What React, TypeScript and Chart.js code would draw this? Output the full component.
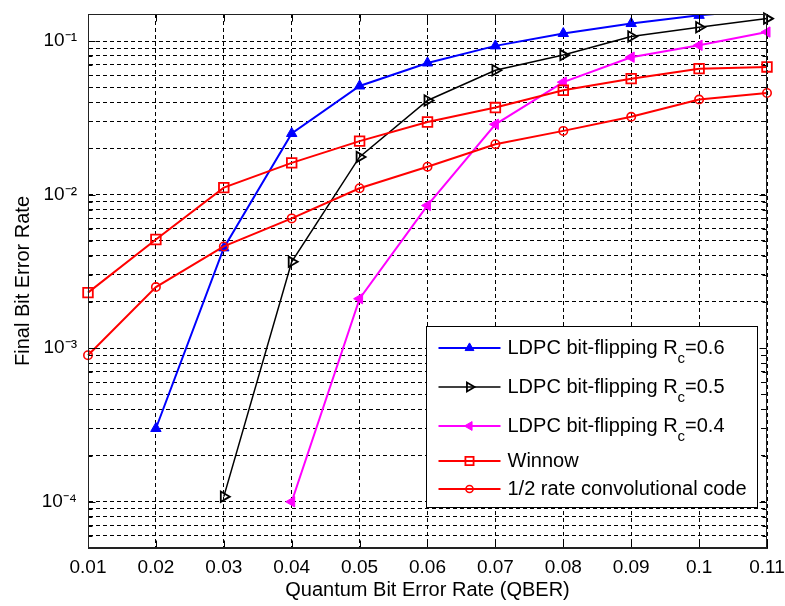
import React, { useEffect, useRef } from 'react';
import { Chart, registerables } from 'chart.js';

Chart.register(...registerables);

// ---------- data ----------
const qber = [0.01, 0.02, 0.03, 0.04, 0.05, 0.06, 0.07, 0.08, 0.09, 0.1, 0.11];
const xTickLabels = ['0.01', '0.02', '0.03', '0.04', '0.05', '0.06', '0.07', '0.08', '0.09', '0.1', '0.11'];

const ldpc06 = [null, 3.0e-4, 4.5e-3, 0.025, 0.051, 0.072, 0.093, 0.112, 0.13, 0.147, 0.16];
const ldpc05 = [null, null, 1.08e-4, 3.65e-3, 0.0176, 0.041, 0.0645, 0.081, 0.107, 0.123, 0.14];
const ldpc04 = [null, null, null, 1.0e-4, 2.1e-3, 8.5e-3, 0.0287, 0.054, 0.0785, 0.0938, 0.1144];
const winnow = [2.3e-3, 5.1e-3, 0.0111, 0.0161, 0.0223, 0.0297, 0.0369, 0.0478, 0.0569, 0.0661, 0.0678];
const convCode = [9.0e-4, 2.5e-3, 4.6e-3, 7.0e-3, 0.011, 0.0152, 0.0213, 0.026, 0.0321, 0.0416, 0.0459];

const seriesNames = [
  'LDPC bit-flipping R_{c}=0.6',
  'LDPC bit-flipping R_{c}=0.5',
  'LDPC bit-flipping R_{c}=0.4',
  'Winnow',
  '1/2 rate convolutional code',
];

const yGridTicks = [
  6e-5, 7e-5, 8e-5, 9e-5,
  1e-4, 2e-4, 3e-4, 4e-4, 5e-4, 6e-4, 7e-4, 8e-4, 9e-4,
  1e-3, 2e-3, 3e-3, 4e-3, 5e-3, 6e-3, 7e-3, 8e-3, 9e-3,
  1e-2, 2e-2, 3e-2, 4e-2, 5e-2, 6e-2, 7e-2, 8e-2, 9e-2,
  1e-1,
];
const yLabelValues = [1e-4, 1e-3, 1e-2, 1e-1];
const yLabelTexts = ['10\u207B\u2074', '10\u207B\u00B3', '10\u207B\u00B2', '10\u207B\u00B9'];

const FONT = "'Liberation Sans', Arial, sans-serif";

const toPoints = (arr: (number | null)[]) =>
  qber.map((q, i) => ({ x: q, y: arr[i] })).filter((p) => p.y !== null);

function isDecade(v: number) {
  const l = Math.log10(v);
  return Math.abs(l - Math.round(l)) < 1e-6;
}

function drawMarker(ctx: CanvasRenderingContext2D, ds: any, x: number, y: number) {
  const style = ds.pointStyle;
  const r = ds.pointRadius;
  const rot = ((ds.pointRotation || 0) * Math.PI) / 180;
  ctx.save();
  ctx.lineWidth = ds.pointBorderWidth;
  ctx.strokeStyle = ds.pointBorderColor;
  ctx.fillStyle = ds.pointBackgroundColor;
  ctx.beginPath();
  if (style === 'triangle') {
    let a = rot;
    ctx.moveTo(x + Math.sin(a) * r, y - Math.cos(a) * r);
    a += (2 * Math.PI) / 3;
    ctx.lineTo(x + Math.sin(a) * r, y - Math.cos(a) * r);
    a += (2 * Math.PI) / 3;
    ctx.lineTo(x + Math.sin(a) * r, y - Math.cos(a) * r);
    ctx.closePath();
  } else if (style === 'rect') {
    const s = Math.SQRT1_2 * r;
    ctx.rect(x - s, y - s, 2 * s, 2 * s);
  } else {
    ctx.arc(x, y, r, 0, Math.PI * 2);
  }
  ctx.fill();
  ctx.stroke();
  ctx.restore();
}

function drawRichText(ctx: CanvasRenderingContext2D, text: string, x: number, baseline: number) {
  const parts = text.split(/_\{([^}]*)\}/);
  let cx = x;
  parts.forEach((p, i) => {
    if (!p) return;
    if (i % 2 === 1) {
      ctx.font = `15px ${FONT}`;
      ctx.fillText(p, cx, baseline + 9);
    } else {
      ctx.font = `20px ${FONT}`;
      ctx.fillText(p, cx, baseline);
    }
    cx += ctx.measureText(p).width;
  });
}

const framePlugin = {
  id: 'frameAndLegend',
  afterDraw(chart: any) {
    const { ctx, chartArea: a, scales } = chart;
    const xs = scales.x;
    const ys = scales.y;
    ctx.save();
    ctx.strokeStyle = '#000';
    ctx.lineWidth = 1;
    const L = Math.round(a.left) + 0.5;
    const R = Math.round(a.right) - 0.5;
    const T = Math.round(a.top) + 0.5;
    const B = Math.round(a.bottom) - 0.5;
    ctx.beginPath();
    xs.ticks.forEach((t: any) => {
      const px = Math.round(xs.getPixelForValue(t.value)) + 0.5;
      ctx.moveTo(px, B);
      ctx.lineTo(px, B - 7);
      ctx.moveTo(px, T);
      ctx.lineTo(px, T + 7);
    });
    ys.ticks.forEach((t: any) => {
      const py = Math.round(ys.getPixelForValue(t.value)) + 0.5;
      const len = isDecade(t.value) ? 7 : 4;
      ctx.moveTo(L, py);
      ctx.lineTo(L + len, py);
      ctx.moveTo(R, py);
      ctx.lineTo(R - len, py);
    });
    ctx.stroke();
    ctx.lineWidth = 1;
    ctx.strokeStyle = '#222';
    ctx.strokeRect(L, T, R - L, B - T);

    // legend
    const bw = 331;
    const bh = 181;
    const bx = Math.round(a.right - 10 - bw) + 0.5;
    const by = Math.round(a.bottom - 41 - bh) + 0.5;
    ctx.fillStyle = '#fff';
    ctx.fillRect(bx, by, bw, bh);
    ctx.strokeStyle = '#000';
    ctx.lineWidth = 1;
    ctx.strokeRect(bx, by, bw, bh);

    let rowY = by + 21;
    let prevSub: boolean | null = null;
    chart.data.datasets.forEach((ds: any) => {
      const label: string = ds.label;
      const hasSub = label.indexOf('_{') >= 0;
      if (prevSub !== null) {
        rowY += (prevSub ? 21 : 14) + (hasSub ? 18 : 14);
      }
      prevSub = hasSub;
      const y = Math.round(rowY);
      ctx.save();
      ctx.strokeStyle = ds.borderColor;
      ctx.lineWidth = ds.borderWidth;
      ctx.beginPath();
      ctx.moveTo(bx + 12, y);
      ctx.lineTo(bx + 74, y);
      ctx.stroke();
      ctx.restore();
      drawMarker(ctx, { ...ds, pointRadius: ds.pointRadius * 0.85 }, bx + 43, y);
      ctx.fillStyle = '#000';
      ctx.textBaseline = 'alphabetic';
      ctx.textAlign = 'left';
      drawRichText(ctx, label, bx + 81, y + 6);
    });
    ctx.restore();
  },
};

export default function App() {
  const canvasRef = useRef<HTMLCanvasElement | null>(null);

  useEffect(() => {
    if (!canvasRef.current) return;
    Chart.defaults.font.family = FONT;
    const mk = (
      label: string,
      arr: (number | null)[],
      color: string,
      style: string,
      rotation: number,
      fill: string,
      radius: number,
      lw: number,
      pbw: number,
      order: number,
      clip: any
    ) => ({
      label,
      data: toPoints(arr),
      borderColor: color,
      backgroundColor: color,
      borderWidth: lw,
      pointStyle: style,
      pointRotation: rotation,
      pointRadius: radius,
      pointBorderWidth: pbw,
      pointBorderColor: color,
      pointBackgroundColor: fill,
      tension: 0,
      fill: false,
      order,
      clip,
    });

    const chart = new Chart(canvasRef.current, {
      type: 'line',
      data: {
        datasets: [
          mk(seriesNames[0], ldpc06, '#0000ff', 'triangle', 0, '#0000ff', 6, 2, 1, 4, { left: 10, top: 0, right: 12, bottom: 10 }),
          mk(seriesNames[1], ldpc05, '#000000', 'triangle', 90, 'rgba(0,0,0,0)', 6, 1.5, 1.8, 3, false),
          mk(seriesNames[2], ldpc04, '#ff00ff', 'triangle', -90, '#ff00ff', 6, 2, 1, 2, false),
          mk(seriesNames[3], winnow, '#ff0000', 'rect', 0, 'rgba(0,0,0,0)', 6.8, 2, 1.8, 1, false),
          mk(seriesNames[4], convCode, '#ff0000', 'circle', 0, 'rgba(0,0,0,0)', 4.2, 2, 1.6, 0, false),
        ],
      },
      options: {
        animation: false,
        responsive: false,
        devicePixelRatio: 1,
        layout: { padding: { left: 0, top: 14, right: 18, bottom: 0 } },
        plugins: { legend: { display: false }, tooltip: { enabled: false } },
        scales: {
          x: {
            type: 'linear',
            min: 0.01,
            max: 0.11,
            afterBuildTicks: (scale: any) => {
              scale.ticks = qber.map((v) => ({ value: v }));
            },
            afterFit: (scale: any) => {
              scale.height = 58;
              scale.paddingLeft = 0;
              scale.paddingRight = 0;
            },
            ticks: {
              autoSkip: false,
              maxRotation: 0,
              padding: 8,
              color: '#000',
              font: { size: 19, family: FONT },
              callback: (_v: any, i: number) => xTickLabels[i],
            },
            grid: { color: '#000', lineWidth: 1, drawTicks: false },
            border: { display: true, color: '#222', dash: [4, 3] },
            title: {
              display: true,
              text: 'Quantum Bit Error Rate (QBER)',
              color: '#000',
              font: { size: 20, family: FONT },
              padding: { top: 0, bottom: 4 },
            },
          },
          y: {
            type: 'logarithmic',
            min: 5e-5,
            max: 0.15,
            afterBuildTicks: (scale: any) => {
              scale.ticks = yGridTicks.map((v) => ({ value: v }));
            },
            afterFit: (scale: any) => {
              scale.width = 88;
              scale.paddingTop = 0;
              scale.paddingBottom = 0;
            },
            ticks: {
              autoSkip: false,
              padding: 11,
              color: '#000',
              font: { size: 19, family: FONT },
              callback: (v: any) => {
                const idx = yLabelValues.findIndex((d) => Math.abs(Math.log10(d) - Math.log10(v)) < 1e-6);
                return idx >= 0 ? yLabelTexts[idx] : '';
              },
            },
            grid: { color: '#000', lineWidth: 1, drawTicks: false },
            border: { display: true, color: '#222', dash: [4, 3] },
            title: {
              display: true,
              text: 'Final Bit Error Rate',
              color: '#000',
              font: { size: 20, family: FONT },
              padding: { top: 11, bottom: 0 },
            },
          },
        },
      },
      plugins: [framePlugin],
    } as any);
    return () => chart.destroy();
  }, []);

  return (
    <div style={{ position: 'fixed', left: 0, top: 0, width: 785, height: 606, background: '#fff' }}>
      <canvas ref={canvasRef} width={785} height={606} style={{ width: 785, height: 606, display: 'block' }} />
    </div>
  );
}
